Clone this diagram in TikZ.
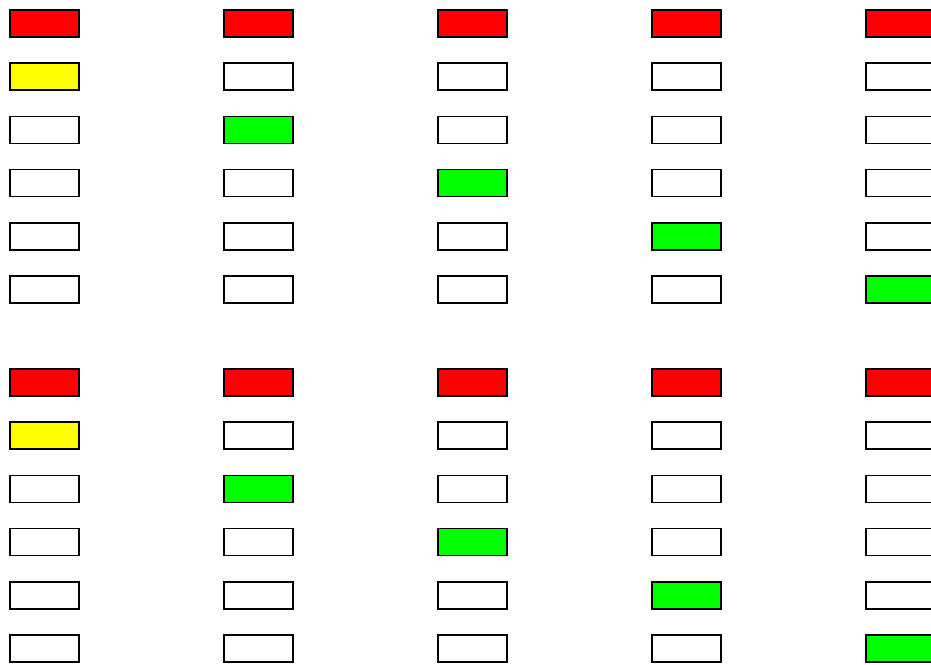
\documentclass[tikz,border=0pt]{standalone}
\usepackage{tikz}
\definecolor{LampRed}{HTML}{FF0000}
\definecolor{LampYellow}{HTML}{FFFF00}
\definecolor{LampGreen}{HTML}{00FF00}

\begin{document}
\begin{tikzpicture}[x=1pt,y=-1pt,
    lamp/.style={draw=black,line width=1.6pt,fill=white,minimum width=69pt,minimum height=27pt,inner sep=0pt},
    lampred/.style={lamp,fill=LampRed},
    lampyellow/.style={lamp,fill=LampYellow},
    lampgreen/.style={lamp,fill=LampGreen}]
      \useasboundingbox (0,0) rectangle (931,664);
      \clip (0,0) rectangle (931,664);
      
      \foreach \g in {0,1}{
        \foreach \c in {0,...,4}{
          \foreach \r in {0,...,5}{
            \node[lamp] (lamp-\g-\c-\r) at (44.5+214*\c, 23.5+53.2*\r+359*\g) {};
          }
          % top lamp of every column
          \node[lampred] (top-\g-\c) at (lamp-\g-\c-0) {};
        }
        % first column: yellow, others: one green each
        \node[lampyellow] (wait-\g) at (lamp-\g-0-1) {};
        \foreach \c [evaluate=\c as \r using int(\c+1)] in {1,...,4}{
          \node[lampgreen] (go-\g-\c) at (lamp-\g-\c-\r) {};
        }
      }
    \end{tikzpicture}
\end{document}
